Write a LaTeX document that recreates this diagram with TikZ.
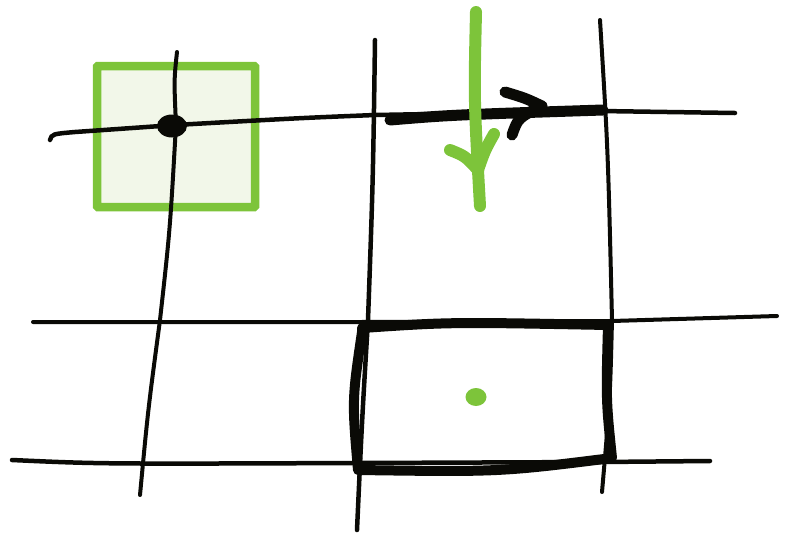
\documentclass[tikz,border=0pt]{standalone}
\usetikzlibrary{arrows.meta,positioning,calc}
\definecolor{leaf}{HTML}{7DC43A}
\definecolor{leafpale}{HTML}{F2F7E9}
\definecolor{ink}{HTML}{0A0A06}
\tikzset{
  gridline/.style={draw=ink,line width=4pt,line cap=round},
  boldink/.style={draw=ink,line width=11pt,line cap=round,line join=round},
  greenbox/.style={draw=leaf,line width=8.5pt,fill=leafpale,rounded corners=1pt},
  greenstroke/.style={draw=leaf,line width=12pt,line cap=round,line join=round}
}

\begin{document}
\begin{tikzpicture}[x=1pt,y=-1pt]
\useasboundingbox (0,0) rectangle (785,539);
% highlighted cell around the node
\draw[greenbox] (97,66) rectangle (255,207);
% horizontal grid lines
\draw[gridline,line width=4.5pt] (50,140) .. controls (52,134) .. (75,132) -- (175,125) .. controls (300,118) .. (375,115) -- (600,111) -- (735,113);
\draw[gridline] (33,322) -- (360,322) -- (612,321) -- (777,316);
\draw[gridline,line width=4.5pt] (12,460) .. controls (100,464) .. (360,463) -- (600,462) -- (710,461);
% vertical grid lines
\draw[gridline] (177,52) .. controls (174,80) .. (176,125) .. controls (170,230) .. (160,320) .. controls (148,410) .. (140,495);
\draw[gridline,line width=4.5pt] (375,40) .. controls (373,180) .. (368,320) .. controls (362,420) .. (357,530);
\draw[gridline] (600,20) .. controls (608,150) .. (612,320) .. controls (610,400) .. (602,492);
% node
\fill[ink] (172,126) ellipse (15 and 11.5);
% edge arrow
\coordinate (ea) at (390,120);
\coordinate (eb) at (603,110);
\coordinate (etip) at (542,106);
\draw[boldink] (ea) .. controls (450,115) .. (eb);
\draw[boldink] (505,92) .. controls (525,98) .. (etip) .. controls (518,118) .. (512,135);
% green arrow across the edge
\coordinate (ga) at (476,12);
\coordinate (gb) at (480,206);
\coordinate (gtip) at (478,170);
\draw[greenstroke] (ga) .. controls (474,100) .. (gb);
\draw[greenstroke] (450,150) .. controls (465,156) .. (gtip) .. controls (485,150) .. (494,134);
% bold cell
\draw[boldink,line width=10pt] (362,332) -- (362,328) .. controls (450,322) .. (608,325) .. controls (606,400) .. (612,458) .. controls (500,472) .. (358,470) .. controls (352,400) .. (362,332);
% cell centre
\fill[leaf] (476,397) ellipse (10.5 and 9);
\end{tikzpicture}
\end{document}
